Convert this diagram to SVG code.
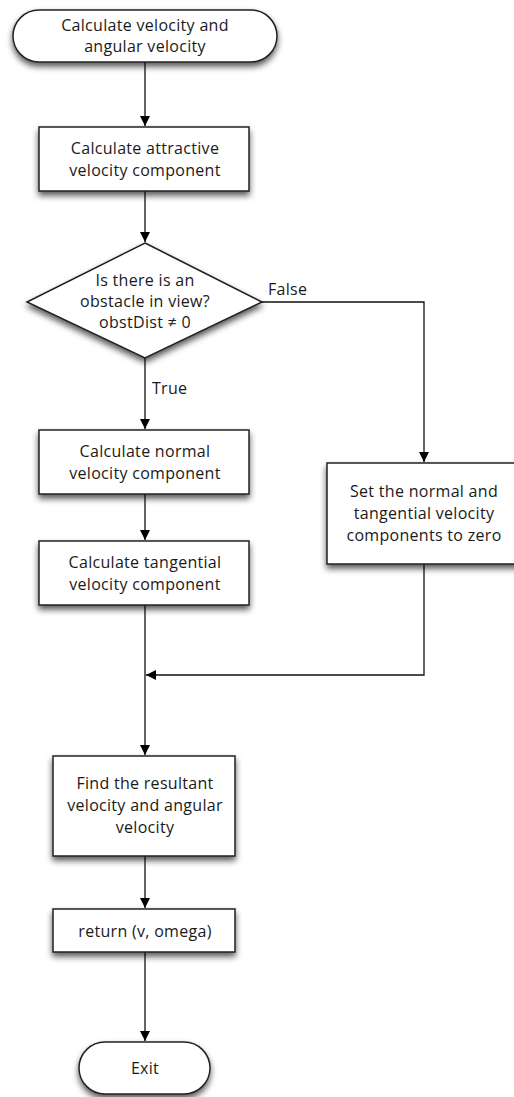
<svg xmlns="http://www.w3.org/2000/svg" width="514" height="1097" viewBox="0 0 514 1097">
  <defs>
    <filter id="shadow" x="-20%" y="-20%" width="140%" height="160%">
      <feDropShadow dx="0" dy="4" stdDeviation="3" flood-color="#000" flood-opacity="0.65"/>
    </filter>
    <marker id="arrow" viewBox="0 0 10 10" refX="10" refY="5" markerWidth="10" markerHeight="10" markerUnits="userSpaceOnUse" orient="auto">
      <path d="M0,0 L10,5 L0,10 Z" fill="#000"/>
    </marker>
  </defs>
  <style>
    .shape { fill: #fff; stroke: #222; stroke-width: 1.5; filter: url(#shadow); }
    .edge { fill: none; stroke: #111; stroke-width: 1.3; }
    .edge.arr { marker-end: url(#arrow); }
    text { font-family: "Open Sans", Lato, sans-serif; font-size: 16px; letter-spacing: 0.3px; fill: #1a1a1a; text-anchor: middle; dominant-baseline: central; font-variant-ligatures: none; }
    .lbl { text-anchor: start; }
  </style>
  <rect width="514" height="1097" fill="#fff"/>

  <g id="connectors">
    <line class="edge arr" x1="145" y1="62" x2="145" y2="126"/>
    <line class="edge arr" x1="145" y1="191" x2="145" y2="242"/>
    <line class="edge arr" x1="145" y1="358" x2="145" y2="429"/>
    <polyline class="edge arr" points="262,302 424,302 424,462"/>
    <line class="edge arr" x1="145" y1="494" x2="145" y2="540"/>
    <line class="edge arr" x1="145" y1="605" x2="145" y2="755"/>
    <polyline class="edge arr" points="424,564 424,675 146,675"/>
    <line class="edge arr" x1="145" y1="856" x2="145" y2="908"/>
    <line class="edge arr" x1="145" y1="952" x2="145" y2="1041"/>
    <text class="lbl" x="268" y="289">False</text>
    <text class="lbl" x="152" y="388">True</text>
  </g>

  <g id="start">
    <rect class="shape" x="13" y="10" width="264" height="52" rx="26" ry="26"/>
    <text x="145" y="25">Calculate velocity and</text>
    <text x="145" y="46">angular velocity</text>
  </g>

  <g id="attractive">
    <rect class="shape" x="39" y="127" width="210" height="64"/>
    <text x="145" y="148">Calculate attractive</text>
    <text x="145" y="170">velocity component</text>
  </g>

  <g id="obstacle-check">
    <polygon class="shape" points="145,243 262,302 145,358 27,302"/>
    <text x="145" y="280">Is there is an</text>
    <text x="145" y="301">obstacle in view?</text>
    <text x="145" y="322">obstDist ≠ 0</text>
  </g>

  <g id="normal">
    <rect class="shape" x="39" y="430" width="210" height="64"/>
    <text x="145" y="451">Calculate normal</text>
    <text x="145" y="473">velocity component</text>
  </g>

  <g id="tangential">
    <rect class="shape" x="39" y="541" width="210" height="64"/>
    <text x="145" y="562">Calculate tangential</text>
    <text x="145" y="584">velocity component</text>
  </g>

  <g id="zero-components">
    <rect class="shape" x="327" y="463" width="194" height="101"/>
    <text x="424" y="491">Set the normal and</text>
    <text x="424" y="513">tangential velocity</text>
    <text x="424" y="535">components to zero</text>
  </g>

  <g id="resultant">
    <rect class="shape" x="53" y="756" width="182" height="100"/>
    <text x="145" y="783">Find the resultant</text>
    <text x="145" y="805">velocity and angular</text>
    <text x="145" y="827">velocity</text>
  </g>

  <g id="return">
    <rect class="shape" x="53" y="909" width="182" height="43"/>
    <text x="145" y="931">return (v, omega)</text>
  </g>

  <g id="exit">
    <rect class="shape" x="79" y="1042" width="131" height="52" rx="26" ry="26"/>
    <text x="145" y="1068">Exit</text>
  </g>
</svg>
